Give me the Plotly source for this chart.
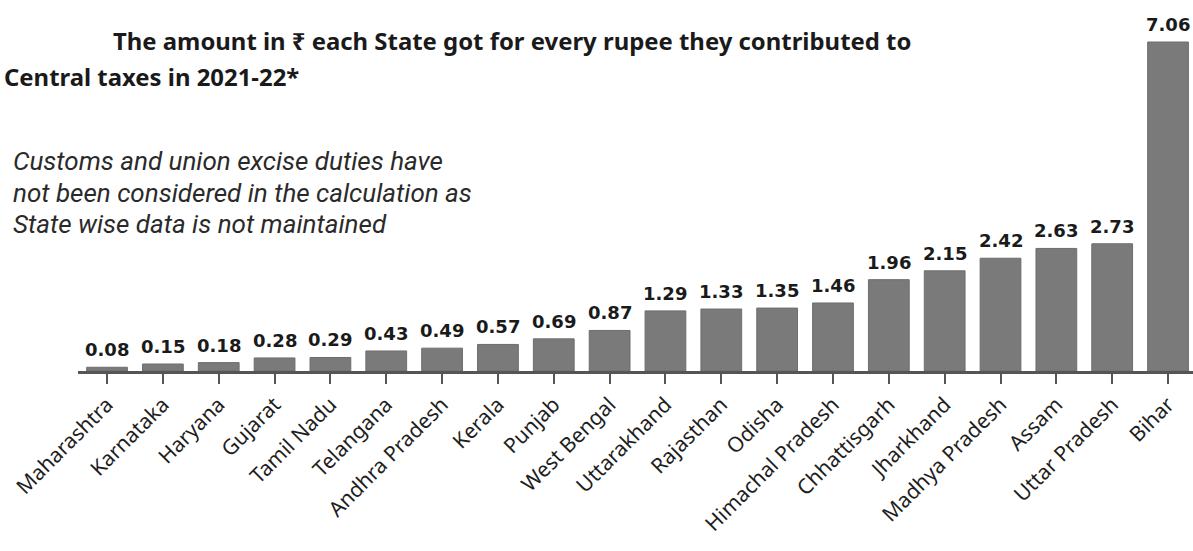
import plotly.graph_objects as go

states = ["Maharashtra", "Karnataka", "Haryana", "Gujarat", "Tamil Nadu", "Telangana",
          "Andhra Pradesh", "Kerala", "Punjab", "West Bengal", "Uttarakhand", "Rajasthan",
          "Odisha", "Himachal Pradesh", "Chhattisgarh", "Jharkhand", "Madhya Pradesh",
          "Assam", "Uttar Pradesh", "Bihar"]
values = [0.08, 0.15, 0.18, 0.28, 0.29, 0.43, 0.49, 0.57, 0.69, 0.87, 1.29, 1.33,
          1.35, 1.46, 1.96, 2.15, 2.42, 2.63, 2.73, 7.06]
value_labels = [f"{v:.2f}" for v in values]

title_line1 = "The amount in ₹ each State got for every rupee they contributed to"
title_line2 = "Central taxes in 2021-22*"
note_lines = ["Customs and union excise duties have",
              "not been considered in the calculation as",
              "State wise data is not maintained"]

W, H = 1193, 551
L, R, T, B = 78, 0, 0, 180
plot_w = W - L - R
plot_h = H - T - B

def px_x(px):
    return (px - L) / plot_w

def px_y(py):
    return 1 - (py - T) / plot_h

fig = go.Figure()
fig.add_trace(go.Bar(
    x=list(range(len(states))), y=values,
    marker=dict(color="#7a7a7a", line=dict(color="#6e6e6e", width=1)),
    width=0.73, hoverinfo="skip",
))

for i, (v, lab) in enumerate(zip(values, value_labels)):
    fig.add_annotation(x=i, y=v, xref="x", yref="y", text=f"<b>{lab}</b>",
                       showarrow=False, yanchor="bottom", yshift=5,
                       font=dict(family="DejaVu Sans", size=18, color="#1a1a1a"))

fig.add_annotation(x=px_x(111), y=px_y(40), xref="paper", yref="paper",
                   text=f"<b>{title_line1}</b>", showarrow=False,
                   xanchor="left", yanchor="middle",
                   font=dict(family="Noto Sans", size=23.9, color="#1a1a1a"))
fig.add_annotation(x=px_x(2), y=px_y(76), xref="paper", yref="paper",
                   text=f"<b>{title_line2}</b>", showarrow=False,
                   xanchor="left", yanchor="middle",
                   font=dict(family="Noto Sans", size=23.9, color="#1a1a1a"))
for k, (line, yc) in enumerate(zip(note_lines, [160, 192, 223])):
    fig.add_annotation(x=px_x(11), y=px_y(yc), xref="paper", yref="paper",
                       text=f"<i>{line}</i>", showarrow=False,
                       xanchor="left", yanchor="middle", height=29,
                       font=dict(family="Roboto", size=26, color="#2a2a2a"))

fig.update_layout(
    width=W, height=H,
    margin=dict(l=L, r=R, t=T, b=B, autoexpand=False),
    paper_bgcolor="white", plot_bgcolor="white",
    showlegend=False,
    xaxis=dict(
        range=[-0.52, 19.447],
        tickmode="array", tickvals=list(range(len(states))), ticktext=states,
        tickangle=-45,
        showline=True, linecolor="#555555", linewidth=3,
        ticks="outside", ticklen=10, tickwidth=2, tickcolor="#555555",
        showgrid=False, zeroline=False, automargin=False,
        tickfont=dict(family="Noto Sans", size=21, color="#1e1e1e"),
        fixedrange=True,
    ),
    yaxis=dict(
        range=[0, plot_h / 46.6],
        visible=False, showgrid=False, zeroline=False, fixedrange=True,
    ),
)

fig.write_html("out.html", config={"displayModeBar": False},
               post_script="document.body.style.margin='0px';document.body.style.overflow='hidden';")
